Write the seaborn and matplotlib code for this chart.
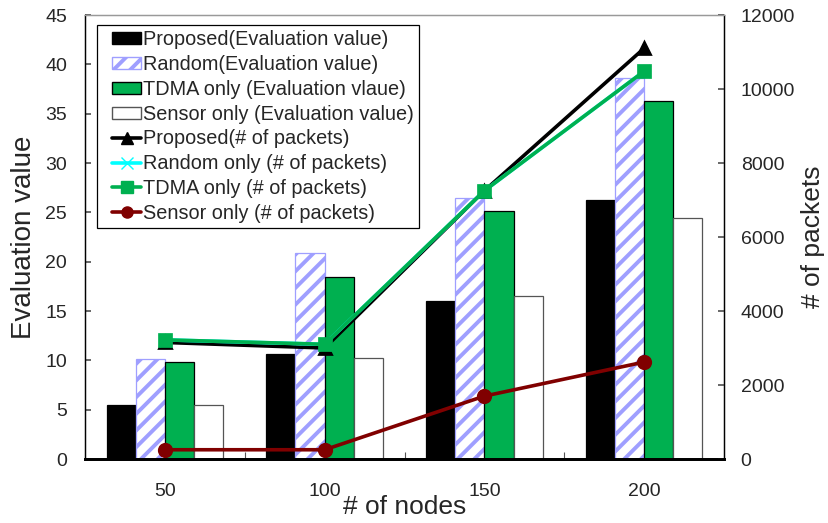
import numpy as np
import pandas as pd
import matplotlib
matplotlib.use("Agg")
import matplotlib.pyplot as plt
import seaborn as sns
from matplotlib.patches import Patch
from matplotlib.lines import Line2D
from matplotlib.legend_handler import HandlerPatch, HandlerLine2D

nodes = ["50", "100", "150", "200"]

bar_series = ["Proposed(Evaluation value)", "Random(Evaluation value)",
              "TDMA only (Evaluation vlaue)", "Sensor only (Evaluation value)"]
eval_proposed = [5.5, 10.6, 16.0, 26.2]
eval_random = [10.1, 20.9, 26.5, 38.6]
eval_tdma = [9.8, 18.4, 25.1, 36.3]
eval_sensor = [5.5, 10.2, 16.5, 24.4]

line_series = ["Proposed(# of packets)", "Random only (# of packets)",
               "TDMA only (# of packets)", "Sensor only (# of packets)"]
pk_proposed = [3150, 3000, 7250, 11100]
pk_random = [3220, 3100, 7250, 10480]
pk_tdma = [3220, 3100, 7250, 10480]
pk_sensor = [250, 250, 1700, 2620]

bar_colors = ["#000000", "#ffffff", "#00b050", "#ffffff"]
line_colors = ["#000000", "#00ffff", "#00b050", "#800000"]
line_markers = ["^", "x", "s", "o"]

sns.set_theme(style="white")
plt.rcParams["font.family"] = ["Liberation Sans", "DejaVu Sans"]
plt.rcParams["hatch.linewidth"] = 2.8
plt.rcParams["hatch.color"] = "#9f9fff"

df_bar = pd.DataFrame({
    "nodes": nodes * 4,
    "series": np.repeat(bar_series, 4),
    "value": eval_proposed + eval_random + eval_tdma + eval_sensor,
})
df_line = pd.DataFrame({
    "nodes": nodes * 4,
    "series": np.repeat(line_series, 4),
    "packets": pk_proposed + pk_random + pk_tdma + pk_sensor,
})

fig = plt.figure(figsize=(8.29, 5.23), dpi=100)
ax = fig.add_axes([85/829, 1-459/523, (724-85)/829, (459-15)/523])

sns.barplot(data=df_bar, x="nodes", y="value", hue="series", order=nodes,
            hue_order=bar_series, palette=bar_colors, edgecolor="black",
            linewidth=0.9, width=0.73, ax=ax, legend=False, errorbar=None,
            saturation=1)

# hatch for the Random bars
for p in ax.containers[1]:
    p.set_hatch("//")
    try:
        p.set_hatchcolor("#9f9fff")
        p.set_edgecolor("#606060")
    except AttributeError:
        p.set_edgecolor("#9f9fff")
for p in ax.containers[3]:
    p.set_edgecolor("#555555")

ax.set_xlim(-0.5, 3.5)
ax.set_ylim(0, 45)
ax.set_yticks(np.arange(0, 46, 5))
ax.set_xlabel("# of nodes", fontsize=19, labelpad=-3)
ax.set_ylabel("Evaluation value", fontsize=20, labelpad=6)
ax.tick_params(axis="x", which="major", length=0, labelsize=14, pad=17)
ax.set_xticks([0.5, 1.5, 2.5], minor=True)
ax.tick_params(axis="x", which="minor", direction="in", length=5, width=0.8, color="#555555", bottom=True)
ax.tick_params(axis="y", direction="in", length=4, labelsize=14, pad=13, left=True, color="#555555")

ax2 = ax.twinx()
sns.pointplot(data=df_line, x="nodes", y="packets", hue="series", order=nodes,
              hue_order=line_series, palette=line_colors, markers=line_markers,
              linestyles="-", dodge=False, errorbar=None, ax=ax2, legend=False,
              markersize=9, linewidth=2.6)
ax2.set_ylim(0, 12000)
ax2.set_yticks(np.arange(0, 12001, 2000))
ax2.set_ylabel("# of packets", fontsize=19, labelpad=4)
ax2.tick_params(axis="y", direction="in", length=4, labelsize=14, pad=12, right=True, color="#555555")
ax2.set_xlim(-0.5, 3.5)

for a in (ax, ax2):
    for s in a.spines.values():
        s.set_color("black")
        s.set_linewidth(0.9)
    a.spines["top"].set_color("#999999")
ax.spines["bottom"].set_linewidth(2)
ax2.spines["bottom"].set_linewidth(2)

handles = []
rand_patch = Patch(facecolor="white", edgecolor="#606060", hatch="//")
try:
    rand_patch.set_hatchcolor("#9f9fff")
except AttributeError:
    rand_patch.set_edgecolor("#9f9fff")
handles.append(Patch(facecolor="black", edgecolor="black"))
handles.append(rand_patch)
handles.append(Patch(facecolor="#00b050", edgecolor="black"))
handles.append(Patch(facecolor="white", edgecolor="#555555"))
for c, m in zip(line_colors, line_markers):
    handles.append(Line2D([], [], color=c, marker=m, linewidth=2.6, markersize=8))
labels = bar_series + line_series
xp = 0.52
leg = ax2.legend(handles, labels, loc="upper left", bbox_to_anchor=(0.018, 0.978),
                 fontsize=14.3, frameon=True, fancybox=False, edgecolor="black",
                 framealpha=1, handlelength=1.98, handleheight=0.55, handletextpad=0.08,
                 labelspacing=0.29, borderpad=0.28, borderaxespad=0,
                 handler_map={Patch: HandlerPatch(xpad=xp), Line2D: HandlerLine2D(xpad=xp)})
leg.get_frame().set_linewidth(0.9)

fig.savefig("out.png", dpi=100)
